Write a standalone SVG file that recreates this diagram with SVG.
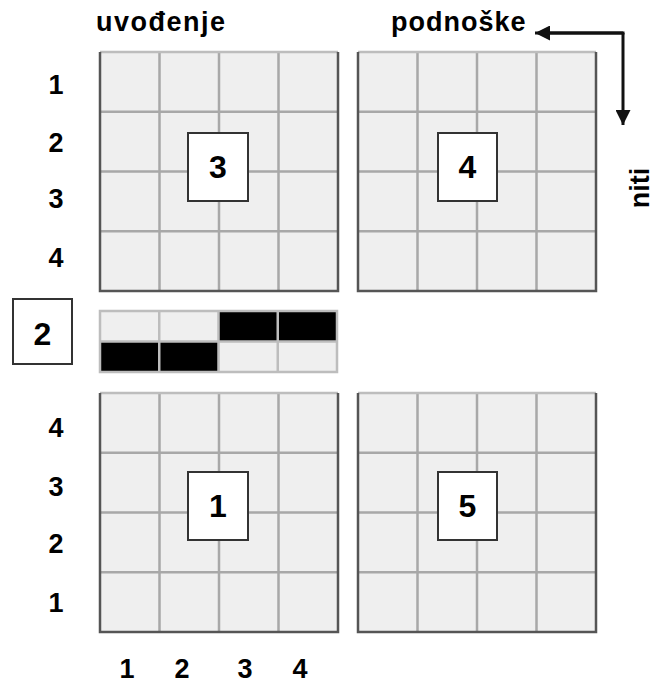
<svg xmlns="http://www.w3.org/2000/svg" width="657" height="684" viewBox="0 0 657 684">
<style>
.bg{fill:#efefef}
.in{stroke:#a8a8a8;stroke-width:2.5;fill:none}
.dk{stroke:#555;stroke-width:2.5;fill:none}
.lt{stroke:#bdbdbd;stroke-width:2.5;fill:none}
.lbl{font-family:"Liberation Sans",Arial,sans-serif;font-weight:bold;font-size:27px;fill:#000;text-anchor:middle}
.ttl{font-family:"Liberation Sans",Arial,sans-serif;font-weight:bold;font-size:27px;fill:#000}
.box{fill:#fff;stroke:#333;stroke-width:2}
.bt{font-family:"Liberation Sans",Arial,sans-serif;font-weight:bold;font-size:32px;fill:#000;text-anchor:middle}
.blk{fill:#000}
.arr{stroke:#111;stroke-width:3;fill:none}
</style>
<defs>
<g id="grid">
<rect class="bg" x="0" y="0" width="238" height="239"/>
<path class="in" d="M59.5 0V239M119 0V239M178.5 0V239M0 59.75H238M0 119.5H238M0 179.25H238"/>
<path class="lt" d="M0 0H238"/>
<path class="dk" d="M0 0V239H238V0"/>
</g>
<marker id="ah" viewBox="0 0 10 10" refX="10" refY="5" markerWidth="5" markerHeight="5" orient="auto" markerUnits="strokeWidth">
<path d="M0 0L10 5L0 10Z" fill="#111"/>
</marker>
</defs>

<g id="title-uvodjenje"><text class="ttl" x="96" y="31" letter-spacing="1.5">uvođenje</text></g>
<g id="title-podnoske"><text class="ttl" x="391" y="31" letter-spacing="1">podnoške</text></g>
<g id="title-niti"><text class="ttl" transform="translate(649 188) rotate(-90)" text-anchor="middle">niti</text></g>

<g id="row-labels-top">
<text class="lbl" x="56" y="94">1</text>
<text class="lbl" x="56" y="152">2</text>
<text class="lbl" x="56" y="208">3</text>
<text class="lbl" x="56" y="267">4</text>
</g>
<g id="row-labels-bottom">
<text class="lbl" x="56" y="437">4</text>
<text class="lbl" x="56" y="496">3</text>
<text class="lbl" x="56" y="553">2</text>
<text class="lbl" x="56" y="612">1</text>
</g>
<g id="col-labels">
<text class="lbl" x="127" y="678">1</text>
<text class="lbl" x="182" y="678">2</text>
<text class="lbl" x="245" y="678">3</text>
<text class="lbl" x="300" y="678">4</text>
</g>

<g id="grid-3"><use href="#grid" x="100" y="52"/>
<rect class="box" x="188" y="133" width="60" height="68"/><text class="bt" x="218" y="178">3</text></g>
<g id="grid-4"><use href="#grid" x="358" y="52"/>
<rect class="box" x="438" y="133" width="59" height="68"/><text class="bt" x="467.5" y="178">4</text></g>
<g id="grid-1"><use href="#grid" x="100" y="393"/>
<rect class="box" x="188" y="472" width="60" height="68"/><text class="bt" x="218" y="517">1</text></g>
<g id="grid-5"><use href="#grid" x="358" y="393"/>
<rect class="box" x="438" y="472" width="59" height="68"/><text class="bt" x="467.5" y="517">5</text></g>

<g id="strip-2">
<rect class="bg" x="100" y="311" width="237" height="61"/>
<rect class="blk" x="218.5" y="311" width="118.5" height="30.5"/>
<rect class="blk" x="100" y="341.5" width="118.5" height="30.5"/>
<path class="lt" d="M100 311H337V372H100ZM100 341.5H337M159.25 311V372M218.5 311V372M277.75 311V372"/>
</g>
<g id="box-2"><rect class="box" x="13" y="299" width="59" height="65"/><text class="bt" x="42.5" y="345">2</text></g>

<g id="connectors">
<path class="arr" d="M623 33H535" marker-end="url(#ah)"/>
<path class="arr" d="M623 33V125" marker-end="url(#ah)"/>
<path class="arr" d="M545 33H624.5"/>
</g>
</svg>
